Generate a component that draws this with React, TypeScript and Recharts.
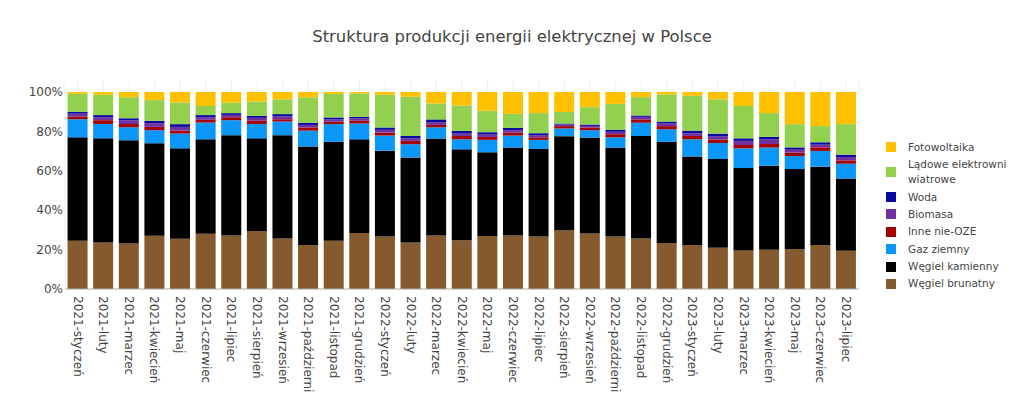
import { Bar, BarChart, CartesianGrid, XAxis, YAxis } from "recharts";

const FONT = '"DejaVu Sans", Verdana, sans-serif';

const MONTHS = [
  "2021-styczeń", "2021-luty", "2021-marzec", "2021-kwiecień", "2021-maj", "2021-czerwiec",
  "2021-lipiec", "2021-sierpień", "2021-wrzesień", "2021-październik", "2021-listopad", "2021-grudzień",
  "2022-styczeń", "2022-luty", "2022-marzec", "2022-kwiecień", "2022-maj", "2022-czerwiec",
  "2022-lipiec", "2022-sierpień", "2022-wrzesień", "2022-październik", "2022-listopad", "2022-grudzień",
  "2023-styczeń", "2023-luty", "2023-marzec", "2023-kwiecień", "2023-maj", "2023-czerwiec", "2023-lipiec",
];

// shares in % per month, stacked bottom -> top
const LIGNITE = [24.5, 23.6, 23.1, 27.0, 25.5, 28.1, 27.2, 29.4, 25.7, 22.4, 24.5, 28.4, 26.7, 23.6, 27.2, 24.8, 26.9, 27.2, 26.7, 29.8, 28.2, 26.7, 25.7, 23.3, 22.4, 20.9, 19.6, 19.9, 20.2, 22.3, 19.4];
const HARD_COAL = [52.5, 52.9, 52.4, 47.0, 45.9, 47.9, 50.9, 47.1, 52.4, 50.0, 50.2, 47.6, 43.5, 43.2, 49.2, 46.1, 42.5, 44.6, 44.4, 47.8, 48.7, 45.1, 52.0, 51.4, 44.9, 45.1, 41.8, 42.7, 40.7, 39.8, 36.7];
const GAS = [9.2, 7.3, 6.6, 6.6, 7.5, 8.5, 7.6, 7.3, 6.9, 8.0, 9.0, 8.0, 7.7, 6.7, 5.7, 5.1, 6.3, 6.1, 4.6, 3.9, 3.7, 5.2, 6.7, 6.4, 8.7, 8.1, 10.0, 9.2, 6.6, 8.0, 7.5];
const OTHER = [1.4, 1.9, 1.7, 1.7, 1.5, 1.4, 1.5, 1.6, 1.2, 1.6, 1.2, 1.4, 1.5, 1.7, 1.2, 1.7, 1.5, 1.5, 1.3, 1.2, 1.4, 1.6, 1.7, 1.6, 1.7, 1.8, 1.7, 1.8, 1.7, 1.8, 1.7];
const BIOMASS = [1.4, 1.5, 1.9, 1.9, 1.9, 1.3, 1.2, 1.5, 1.4, 1.3, 1.2, 1.2, 1.4, 1.2, 1.4, 1.2, 1.2, 1.2, 1.1, 0.8, 0.8, 1.2, 1.3, 1.3, 1.4, 1.5, 2.1, 2.3, 1.5, 1.4, 1.7];
const HYDRO = [1.0, 1.1, 1.0, 1.2, 1.4, 1.1, 0.9, 1.0, 1.2, 1.1, 1.0, 0.8, 1.2, 1.3, 1.4, 1.4, 1.2, 1.2, 1.0, 0.5, 0.7, 1.0, 0.7, 1.0, 1.3, 1.5, 1.3, 1.3, 1.2, 1.2, 1.2];
const WIND = [9.1, 10.3, 10.6, 10.5, 11.0, 4.6, 5.3, 7.3, 7.5, 12.9, 11.9, 11.9, 16.6, 19.9, 8.1, 12.9, 10.9, 7.1, 10.2, 5.9, 8.8, 13.2, 9.3, 13.8, 17.7, 17.4, 16.4, 12.1, 11.8, 8.2, 15.5];
const SOLAR = [0.9, 1.4, 2.7, 4.1, 5.3, 7.1, 5.4, 4.8, 3.7, 2.7, 1.0, 0.7, 1.4, 2.4, 5.8, 6.8, 9.5, 11.1, 10.7, 10.1, 7.7, 6.0, 2.6, 1.2, 1.9, 3.7, 7.1, 10.7, 16.3, 17.3, 16.3];

const Y_TICKS = [0, 20, 40, 60, 80, 100];

const SERIES = [
  { key: "lignite", name: "Węgiel brunatny", color: "#845a2e", values: LIGNITE },
  { key: "hardCoal", name: "Węgiel kamienny", color: "#000000", values: HARD_COAL },
  { key: "gas", name: "Gaz ziemny", color: "#0a97f7", values: GAS },
  { key: "other", name: "Inne nie-OZE", color: "#a50404", values: OTHER },
  { key: "biomass", name: "Biomasa", color: "#7030a0", values: BIOMASS },
  { key: "hydro", name: "Woda", color: "#0a0aa0", values: HYDRO },
  { key: "wind", name: "Lądowe elektrownie wiatrowe", color: "#92d050", values: WIND },
  { key: "solar", name: "Fotowoltaika", color: "#ffc000", values: SOLAR },
];

const data = MONTHS.map((label, i) => {
  const row: Record<string, string | number> = { label };
  SERIES.forEach((s) => {
    row[s.key] = s.values[i];
  });
  return row;
});

function MonthTick({ x, y, payload }: { x?: number; y?: number; payload?: { value: string } }) {
  return (
    <text
      transform={`translate(${x},${y}) rotate(90)`}
      dy="0.35em"
      textAnchor="start"
      fill="#444"
      fontSize={12}
      fontFamily={FONT}
    >
      {payload?.value}
    </text>
  );
}

function Legend() {
  const items = [...SERIES].reverse();
  return (
    <div
      style={{
        position: "absolute",
        left: 880,
        top: 138.6,
        width: 126,
        overflow: "hidden",
        fontFamily: FONT,
        fontSize: 10.5,
        color: "#444",
        whiteSpace: "nowrap",
      }}
    >
      {items.map((s) => (
        <div
          key={s.key}
          style={{ display: "flex", alignItems: "center", padding: "1.2px 0", lineHeight: "15px" }}
        >
          <span
            style={{
              display: "inline-block",
              width: 10,
              height: 10,
              marginLeft: 6,
              marginRight: 12,
              background: s.color,
              flex: "none",
            }}
          />
          <span>
            {s.key === "wind" ? (
              <>
                Lądowe elektrownie
                <br />
                wiatrowe
              </>
            ) : (
              s.name
            )}
          </span>
        </div>
      ))}
    </div>
  );
}

export default function App() {
  return (
    <div style={{ position: "relative", width: 1024, height: 393, overflow: "hidden", background: "#fff" }}>
      <style>{`body{margin:0}`}</style>
      <div
        style={{
          position: "absolute",
          left: 0,
          width: 1024,
          top: 27,
          textAlign: "center",
          fontFamily: FONT,
          fontSize: 16.4,
          color: "#444",
        }}
      >
        Struktura produkcji energii elektrycznej w Polsce
      </div>
      <div style={{ position: "absolute", left: 0, top: 0 }}>
        <BarChart
          width={1024}
          height={393}
          data={data}
          margin={{ top: 81, right: 165, bottom: 0, left: 0 }}
          barCategoryGap="10%"
        >
          <CartesianGrid vertical horizontal={false} stroke="#eeeeee" />
          <XAxis
            dataKey="label"
            interval={0}
            height={104}
            tickLine={false}
            tickSize={0}
            tickMargin={7}
            axisLine={{ stroke: "#aaaaaa" }}
            tick={<MonthTick />}
          />
          <YAxis
            width={65}
            domain={[0, 105.6]}
            ticks={Y_TICKS}
            allowDataOverflow
            tickFormatter={(v: number) => `${v}%`}
            axisLine={false}
            tickLine={false}
            tickSize={0}
            tickMargin={2}
            tick={{ fill: "#444", fontSize: 12, fontFamily: FONT }}
          />
          {SERIES.map((s) => (
            <Bar key={s.key} dataKey={s.key} name={s.name} stackId="a" fill={s.color} isAnimationActive={false} />
          ))}
        </BarChart>
      </div>
      <Legend />
    </div>
  );
}
